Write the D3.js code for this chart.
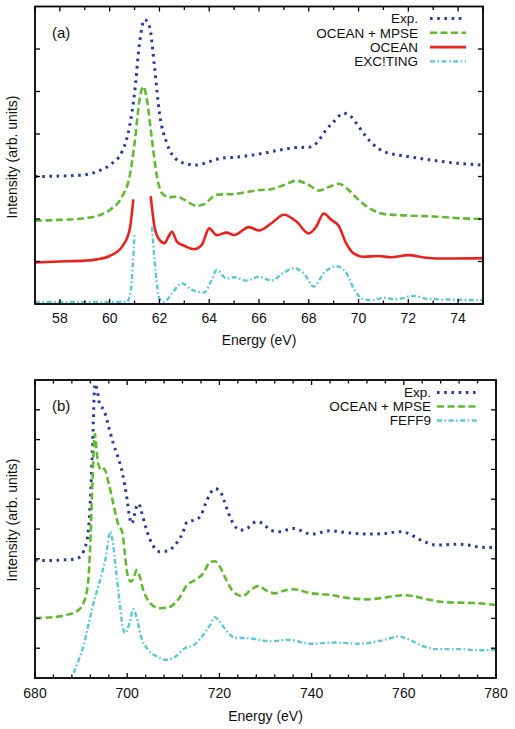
<!DOCTYPE html>
<html><head><meta charset="utf-8">
<script src="https://cdn.jsdelivr.net/npm/d3@7"></script>
<style>
html,body{margin:0;padding:0;background:#fff;}
svg{display:block;font-family:"Liberation Sans",Arial,Helvetica,sans-serif;}
</style></head>
<body>
<svg id="chart" width="515" height="729"></svg>
<script>
// ---------- DATA: panel (a) ----------
const aXTicks = [58,60,62,64,66,68,70,72,74];
const aSeriesNames = ["Exp.","OCEAN + MPSE","OCEAN","EXC!TING"];
const aExp = [[57,3.0],[58,3.01],[59,3.04],[59.5,3.12],[60,3.27],[60.5,3.59],[60.8,4.18],[61,4.96],[61.2,6.14],[61.4,6.69],[61.6,6.53],[61.8,5.59],[62,4.49],[62.3,3.78],[62.7,3.39],[63,3.31],[63.5,3.27],[64,3.35],[64.5,3.43],[65,3.45],[66,3.53],[67,3.64],[67.5,3.68],[68,3.69],[68.3,3.78],[68.7,4.10],[69,4.29],[69.4,4.49],[69.7,4.41],[70,4.18],[70.3,3.94],[70.7,3.70],[71,3.59],[72,3.47],[73,3.38],[74,3.31],[75,3.27]];
const aMpse = [[57,1.96],[58,1.98],[59,2.02],[59.5,2.07],[60,2.21],[60.5,2.53],[60.8,3.0],[61,3.78],[61.2,4.80],[61.35,5.12],[61.5,4.80],[61.7,3.86],[61.9,3.0],[62.1,2.61],[62.4,2.51],[62.7,2.53],[63,2.45],[63.5,2.31],[63.8,2.35],[64.3,2.57],[65,2.59],[66,2.68],[66.5,2.70],[67,2.80],[67.5,2.90],[68,2.80],[68.4,2.67],[68.8,2.75],[69.2,2.83],[69.6,2.68],[70,2.45],[70.5,2.23],[71,2.12],[72,2.08],[73,2.06],[74,2.02],[75,2.0]];
const aOcean = [[57,0.98],[58,1.0],[59,1.02],[59.5,1.05],[60,1.13],[60.5,1.35],[60.8,1.74],[60.95,2.46],[61.3,null],[61.65,2.54],[61.8,1.82],[62,1.51],[62.2,1.43],[62.35,1.57],[62.5,1.70],[62.7,1.47],[63,1.37],[63.4,1.29],[63.7,1.39],[64,1.78],[64.3,1.62],[64.7,1.68],[65,1.62],[65.6,1.81],[66,1.73],[66.5,1.90],[67,2.10],[67.5,1.94],[68,1.66],[68.3,1.82],[68.6,2.13],[68.9,1.98],[69.2,1.84],[69.5,1.43],[69.8,1.19],[70.2,1.11],[70.8,1.13],[71.3,1.10],[72,1.15],[72.7,1.09],[73.5,1.07],[75,1.08]];
const aExciting = [[57,0.05],[60.7,0.05],[60.85,0.33],[61.0,1.66],[61.3,null],[61.7,1.82],[61.85,0.72],[62,0.13],[62.2,0.05],[62.5,0.25],[62.9,0.49],[63.3,0.33],[63.8,0.27],[64.1,0.57],[64.3,0.80],[64.7,0.60],[65,0.63],[65.5,0.55],[66,0.64],[66.5,0.55],[67,0.74],[67.4,0.84],[67.8,0.72],[68.2,0.41],[68.6,0.72],[69.1,0.89],[69.5,0.74],[69.8,0.37],[70.2,0.11],[70.6,0.09],[71,0.15],[71.5,0.11],[72.2,0.19],[72.8,0.12],[75,0.09]];

// ---------- DATA: panel (b) ----------
const bXTicks = [680,700,720,740,760,780];
const bSeriesNames = ["Exp.","OCEAN + MPSE","FEFF9"];
const bExp = [[680,3.96],[683,3.94],[686,3.96],[688,3.98],[689.5,4.04],[690.5,4.24],[691.5,4.85],[692,5.96],[692.5,7.86],[693,9.87],[693.5,9.64],[694,9.20],[695,8.97],[696,8.42],[697,7.86],[698,7.41],[699,6.86],[700,5.96],[700.5,5.41],[701,5.18],[702,5.74],[702.5,5.85],[703,5.63],[704,5.07],[705,4.63],[706,4.35],[707,4.24],[709,4.27],[710,4.40],[712,4.85],[713,5.24],[715,5.32],[716,5.46],[717,5.85],[718,6.19],[719,6.35],[720,6.30],[721,5.96],[722,5.52],[723,5.18],[724.5,4.96],[726,5.02],[728,5.24],[729.5,5.18],[731,4.96],[733,4.91],[736,5.02],[740,4.83],[744,4.94],[748,4.87],[752,4.83],[756,4.85],[759,4.91],[761,4.85],[763,4.68],[765,4.54],[767,4.46],[770,4.48],[772,4.49],[774,4.46],[776,4.40],[778,4.38],[780,4.40]];
const bMpse = [[680,2.01],[684,2.04],[687,2.12],[689,2.23],[690.5,2.51],[691.5,3.18],[692,4.52],[692.5,6.74],[693,8.19],[693.3,7.75],[693.7,7.19],[694.5,6.97],[695,7.02],[696,6.52],[697,5.85],[698,5.18],[699,4.85],[699.5,4.18],[700,3.51],[700.8,3.23],[701.5,3.40],[702,3.62],[702.5,3.51],[703.5,2.95],[705,2.51],[707,2.34],[709,2.37],[711,2.62],[713,3.12],[715,3.31],[716.5,3.51],[718,3.90],[719,3.92],[720,3.76],[721.5,3.29],[723,2.90],[725,2.75],[727,2.98],[728.5,3.09],[730,2.95],[732,2.84],[734,2.93],[736,2.98],[740,2.84],[744,2.79],[748,2.68],[752,2.64],[756,2.70],[760,2.78],[762,2.75],[765,2.64],[768,2.56],[772,2.53],[776,2.51],[780,2.45]];
const bFeff = [[688.4,0.17],[689.5,0.61],[690.5,1.06],[691.5,1.73],[692.5,2.40],[693.5,2.95],[694.5,3.51],[695.5,4.18],[696,4.74],[696.3,4.91],[696.8,4.63],[697.5,3.73],[698.3,2.62],[699,1.73],[699.5,1.51],[700.5,1.84],[701.3,2.31],[702,2.06],[703,1.39],[704.5,0.95],[706.5,0.72],[708.5,0.61],[710.5,0.72],[712.5,1.0],[714.5,1.11],[716.5,1.45],[718,1.78],[719,2.04],[720,1.90],[721.5,1.59],[723.5,1.34],[726,1.34],[728,1.30],[731,1.23],[735,1.28],[740,1.15],[745,1.19],[750,1.15],[755,1.25],[759,1.39],[761,1.30],[764,1.08],[767,0.97],[772,0.97],[776,0.93],[780,0.95]];

// ---------- STYLES ----------
const styles = {
  exp:   {color:"#2b3c98", width:3,   dash:"2.6,4.6"},
  mpse:  {color:"#62b934", width:2.6, dash:"7,3.5"},
  ocean: {color:"#e8221e", width:2.6, dash:null},
  dd:    {color:"#5ec6d6", width:2.4, dash:"5,2.5,1.6,2.5"}
};

const svg = d3.select("#chart");

function panel(cfg){
  const {id,left,right,top,bottom,xDomain,yDomain,xTicks,minorStep,yTickCount,series,label,legend,yLabelY,tickLabelY,titleY} = cfg;
  const x = d3.scaleLinear().domain(xDomain).range([left,right]);
  const y = d3.scaleLinear().domain(yDomain).range([bottom,top]);
  const g = svg.append("g");
  g.append("clipPath").attr("id","clip"+id).append("rect")
    .attr("x",left).attr("y",top).attr("width",right-left).attr("height",bottom-top);

  // curves
  const line = d3.line().defined(d=>d[1]!==null).x(d=>x(d[0])).y(d=>y(d[1])).curve(d3.curveMonotoneX);
  series.forEach(s=>{
    g.append("path").attr("clip-path","url(#clip"+id+")")
      .attr("d",line(s.data)).attr("fill","none")
      .attr("stroke",s.style.color).attr("stroke-width",s.style.width)
      .attr("stroke-dasharray",s.style.dash).attr("stroke-linejoin","round");
  });

  // ticks (inward, mirrored)
  const minor = d3.range(xDomain[0], xDomain[1]+1e-9, minorStep);
  minor.forEach(v=>{
    const isMajor = xTicks.some(t=>Math.abs(t-v)<1e-6);
    const L = isMajor?5:3.5;
    g.append("line").attr("x1",x(v)).attr("x2",x(v)).attr("y1",bottom).attr("y2",bottom-L).attr("stroke","#000").attr("stroke-width",1.3);
    g.append("line").attr("x1",x(v)).attr("x2",x(v)).attr("y1",top).attr("y2",top+L).attr("stroke","#000").attr("stroke-width",1.3);
  });
  d3.range(1,yTickCount).forEach(v=>{
    g.append("line").attr("x1",left).attr("x2",left+5).attr("y1",y(v)).attr("y2",y(v)).attr("stroke","#000").attr("stroke-width",1.3);
    g.append("line").attr("x1",right).attr("x2",right-5).attr("y1",y(v)).attr("y2",y(v)).attr("stroke","#000").attr("stroke-width",1.3);
  });
  // frame
  g.append("rect").attr("x",left).attr("y",top).attr("width",right-left).attr("height",bottom-top)
    .attr("fill","none").attr("stroke","#000").attr("stroke-width",1.8);

  // tick labels
  xTicks.forEach(t=>{
    g.append("text").attr("x",x(t)).attr("y",tickLabelY).attr("text-anchor","middle")
      .attr("font-size",14).attr("fill","#111").text(t);
  });
  // axis titles
  g.append("text").attr("x",(left+right)/2).attr("y",titleY).attr("text-anchor","middle")
    .attr("font-size",14).attr("fill","#111").text("Energy (eV)");
  g.append("text").attr("transform",`translate(17,${yLabelY}) rotate(-90)`).attr("text-anchor","middle")
    .attr("font-size",14).attr("fill","#111").text("Intensity (arb. units)");
  // panel label
  g.append("text").attr("x",left+17).attr("y",top+31).attr("font-size",15).attr("fill","#111").text(label);

  // legend
  series.forEach((s,i)=>{
    const ly = legend.y0 + i*legend.dy;
    g.append("text").attr("x",legend.textX).attr("y",ly+4.8).attr("text-anchor","end")
      .attr("font-size",13.5).attr("fill","#111").text(s.name);
    g.append("line").attr("x1",legend.x1).attr("x2",legend.x2).attr("y1",ly).attr("y2",ly)
      .attr("stroke",s.style.color).attr("stroke-width",s.style.width)
      .attr("stroke-dasharray",s.style.dash);
  });
}

panel({
  id:"a", left:35, right:483, top:6.5, bottom:304,
  xDomain:[57,75], yDomain:[0,7], xTicks:aXTicks, minorStep:1, yTickCount:7,
  series:[
    {name:aSeriesNames[0], data:aExp, style:styles.exp},
    {name:aSeriesNames[1], data:aMpse, style:styles.mpse},
    {name:aSeriesNames[2], data:aOcean, style:styles.ocean},
    {name:aSeriesNames[3], data:aExciting, style:styles.dd}
  ],
  label:"(a)", legend:{textX:418, x1:430, x2:466, y0:18.5, dy:14.3},
  yLabelY:157, tickLabelY:323, titleY:345
});

panel({
  id:"b", left:35, right:496, top:380, bottom:678,
  xDomain:[680,780], yDomain:[0,10], xTicks:bXTicks, minorStep:4, yTickCount:10,
  series:[
    {name:bSeriesNames[0], data:bExp, style:styles.exp},
    {name:bSeriesNames[1], data:bMpse, style:styles.mpse},
    {name:bSeriesNames[2], data:bFeff, style:styles.dd}
  ],
  label:"(b)", legend:{textX:431, x1:437, x2:479, y0:392.5, dy:14},
  yLabelY:520, tickLabelY:698, titleY:720.5
});
</script>
</body></html>
